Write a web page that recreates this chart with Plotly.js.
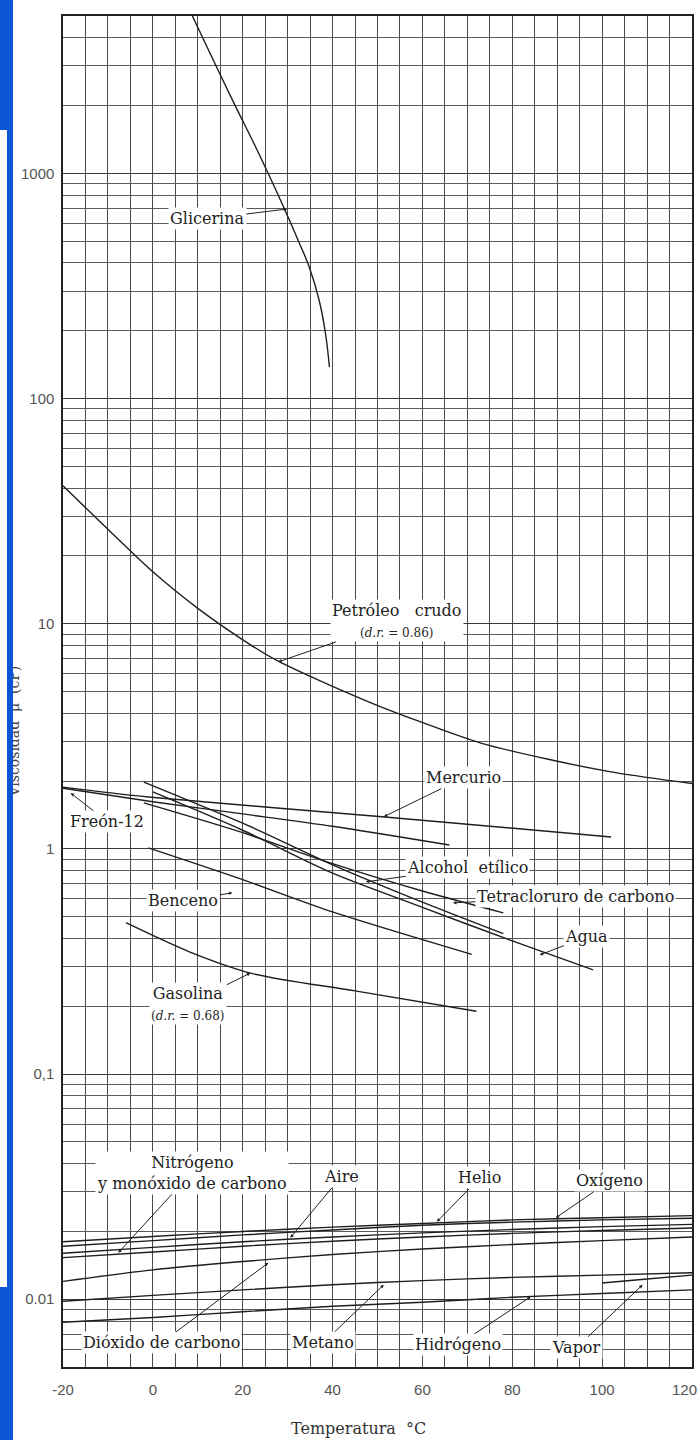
<!DOCTYPE html>
<html><head><meta charset="utf-8">
<script src="https://cdn.plot.ly/plotly-3.0.1.min.js"></script>
<style>
html,body{margin:0;padding:0;background:#fff;}
#chart{width:700px;height:1440px;}
.ovl{position:absolute;z-index:10;}
</style>
</head><body>
<div id="chart"></div>
<div class="ovl" style="left:0;top:0;width:13px;height:1440px;background:#0b55d6"></div>
<div class="ovl" style="left:0;top:130px;width:7px;height:1157px;background:#fff"></div>
<script>
// ---- data (temperature in °C, viscosity in cP) ----
const xTickVals = [-20, 0, 20, 40, 60, 80, 100, 120];
const xTickText = ["-20", "0", "20", "40", "60", "80", "100", "120"];
const yTickVals = [0.01, 0.1, 1, 10, 100, 1000];
const yTickText = ["0.01", "0,1", "1", "10", "100", "1000"];

const glicerinaT  = [8.8, 17.7, 23.2, 29.2, 32.3, 34.8, 37.0, 38.4, 39.3];
const glicerinaMu = [5000, 2120, 1270, 702, 506, 384, 274, 196, 138];

const petroleoT  = [-20, -7, 0, 10, 22, 28, 37, 48, 59, 73, 88, 103, 120];
const petroleoMu = [41, 23, 17, 11.7, 8.0, 6.8, 5.6, 4.5, 3.7, 2.95, 2.5, 2.18, 1.95];

const mercurioT  = [-20, -1, 51, 102];
const mercurioMu = [1.88, 1.70, 1.39, 1.13];

const freonT  = [-20, 0, 20, 40, 66];
const freonMu = [1.86, 1.62, 1.43, 1.26, 1.04];

const alcoholT  = [-2, 20, 40, 60, 78];
const alcoholMu = [1.98, 1.30, 0.85, 0.58, 0.42];

const tetraT  = [-2, 20, 40, 60, 78];
const tetraMu = [1.60, 1.18, 0.86, 0.65, 0.52];

const aguaT  = [0, 20, 40, 60, 80, 98];
const aguaMu = [1.79, 1.21, 0.78, 0.55, 0.39, 0.29];

const bencenoT  = [-1, 20, 40, 71];
const bencenoMu = [1.01, 0.73, 0.525, 0.34];

const gasolinaT  = [-6, 8, 22, 45, 72];
const gasolinaMu = [0.47, 0.35, 0.28, 0.234, 0.19];

const gasT = [-20, 0, 20, 40, 60, 80, 100, 120];
const oxigenoMu   = [0.0180, 0.0190, 0.0200, 0.0209, 0.0217, 0.0225, 0.0230, 0.0235];
const helioMu     = [0.0172, 0.0182, 0.0193, 0.0203, 0.0213, 0.0220, 0.0225, 0.0229];
const aireMu      = [0.0160, 0.0170, 0.0180, 0.0189, 0.0197, 0.0204, 0.0210, 0.0215];
const nitrogenoMu = [0.0153, 0.0162, 0.0172, 0.0181, 0.0189, 0.0196, 0.0202, 0.0207];
const co2Mu       = [0.0120, 0.0135, 0.0147, 0.0158, 0.0167, 0.0175, 0.0182, 0.0189];
const metanoMu    = [0.0098, 0.0104, 0.0110, 0.0116, 0.0121, 0.0125, 0.0128, 0.0131];
const hidrogenoMu = [0.0079, 0.0083, 0.0088, 0.0093, 0.0097, 0.0102, 0.0106, 0.0110];

const vaporT  = [100, 110, 120];
const vaporMu = [0.0118, 0.0123, 0.0128];

// labels: text, arrow tip (T, mu), text centre (T, mu)
const labelTexts = [
  "Glicerina",
  "Petróleo   crudo<br><span style=\"font-size:12px\">(<i>d.r.</i> = 0.86)</span>",
  "Mercurio",
  "Freón-12",
  "Alcohol  etílico",
  "Tetracloruro de carbono",
  "Agua",
  "Benceno",
  "Gasolina<br><span style=\"font-size:12px\">(<i>d.r.</i> = 0.68)</span>",
  "Nitrógeno<br>y monóxido de carbono",
  "Aire",
  "Helio",
  "Oxígeno",
  "Dióxido de carbono",
  "Metano",
  "Hidrógeno",
  "Vapor"
];
const labelTipT   = [29.9, 27.9, 51.4, -18.3, 47.4, 66.8, 86.1, 17.7, 21.7, -7.7, 30.6, 63.2, 89.7, 25.7, 51.4, 84.1, 109];
const labelTipMu  = [695, 6.77, 1.39, 1.77, 0.714, 0.576, 0.338, 0.638, 0.281, 0.01607, 0.01874, 0.02207, 0.023, 0.01451, 0.01159, 0.01026, 0.01159];
const labelTextT  = [12.1, 54.3, 69.2, -10.1, 70.1, 94.1, 96.6, 6.8, 7.9, 8.6, 41.9, 72.8, 101.7, 1.9, 37.9, 67.9, 94.3];
const labelTextMu = [628, 10.29, 2.07, 1.32, 0.824, 0.612, 0.407, 0.588, 0.205, 0.0364, 0.035, 0.0346, 0.03356, 0.0064, 0.0064, 0.00627, 0.00609];

// ---- traces ----
const lineStyle = {color: "#1e1e1e", width: 1.4, shape: "spline", smoothing: 0.8};
function tr(x, y, smooth) {
  const line = Object.assign({}, lineStyle);
  if (smooth) line.smoothing = smooth;
  return {type: "scatter", mode: "lines", x: x, y: y, line: line, hoverinfo: "skip"};
}
const traces = [
  tr(glicerinaT, glicerinaMu, 1.2), tr(petroleoT, petroleoMu), tr(mercurioT, mercurioMu),
  tr(freonT, freonMu), tr(alcoholT, alcoholMu), tr(tetraT, tetraMu), tr(aguaT, aguaMu),
  tr(bencenoT, bencenoMu), tr(gasolinaT, gasolinaMu),
  tr(gasT, oxigenoMu), tr(gasT, helioMu), tr(gasT, aireMu), tr(gasT, nitrogenoMu),
  tr(gasT, co2Mu), tr(gasT, metanoMu), tr(gasT, hidrogenoMu), tr(vaporT, vaporMu)
];

// minor log grid: 2..9 within each decade
const minorY = [];
for (let d = -3; d <= 3; d++) for (let m = 2; m <= 9; m++) minorY.push(m * Math.pow(10, d));

// last x tick label drawn separately so it stays inside the picture
const lastIdx = xTickText.length - 1;
const shownTickText = xTickText.map((t, i) => i === lastIdx ? "" : t);

const serif = "DejaVu Serif, Liberation Serif, serif";
const tickFont = {family: "Liberation Sans, Arial, sans-serif", size: 15, color: "#555"};
const annotations = labelTexts.map((t, i) => ({
  text: t, xref: "x", yref: "y", axref: "x", ayref: "y",
  x: labelTipT[i], y: Math.log10(labelTipMu[i]),
  ax: labelTextT[i], ay: Math.log10(labelTextMu[i]),
  showarrow: true, arrowhead: 2, arrowsize: 0.7, arrowwidth: 1, arrowcolor: "#222",
  standoff: 0, startstandoff: 0,
  bgcolor: "#ffffff", borderpad: 1,
  font: {family: serif, size: 16, color: "#222"}
}));
annotations.push({
  text: xTickText[lastIdx], xref: "x", yref: "paper", x: xTickVals[lastIdx], y: -0.017,
  xanchor: "center", yanchor: "middle", xshift: -8, showarrow: false, font: tickFont
});
annotations.push({
  text: "Temperatura  °C", xref: "paper", yref: "paper", x: 0.469, y: -0.0452,
  xanchor: "center", yanchor: "middle", showarrow: false,
  font: {family: serif, size: 16, color: "#333"}
});
annotations.push({
  text: "Viscosidad  μ  (cP)", xref: "paper", yref: "paper", x: -0.0786, y: 0.47,
  xanchor: "center", yanchor: "middle", textangle: -90, showarrow: false,
  font: {family: serif, size: 14, color: "#444"}
});

const layout = {
  width: 700, height: 1440,
  margin: {l: 62.5, r: 7.5, t: 16, b: 73},
  paper_bgcolor: "#ffffff", plot_bgcolor: "#ffffff",
  showlegend: false,
  xaxis: {
    range: [-20, 120], tickvals: xTickVals, ticktext: shownTickText,
    showgrid: true, gridcolor: "#4a4a4a", gridwidth: 1,
    minor: {dtick: 5, showgrid: true, gridcolor: "#4a4a4a", gridwidth: 1},
    zeroline: false, showline: true, mirror: true, linecolor: "#222", linewidth: 1.6,
    ticks: "", ticklabelstandoff: 8,
    tickfont: tickFont
  },
  yaxis: {
    type: "log", range: [Math.log10(0.005), Math.log10(5000)],
    tickvals: yTickVals, ticktext: yTickText,
    showgrid: true, gridcolor: "#3a3a3a", gridwidth: 1,
    minor: {tickvals: minorY, showgrid: true, gridcolor: "#5a5a5a", gridwidth: 1},
    zeroline: false, showline: true, mirror: true, linecolor: "#222", linewidth: 1.6,
    ticks: "", ticklabelstandoff: 4,
    tickfont: tickFont
  },
  annotations: annotations
};

Plotly.newPlot("chart", traces, layout, {staticPlot: true, displayModeBar: false});
</script>
</body></html>
